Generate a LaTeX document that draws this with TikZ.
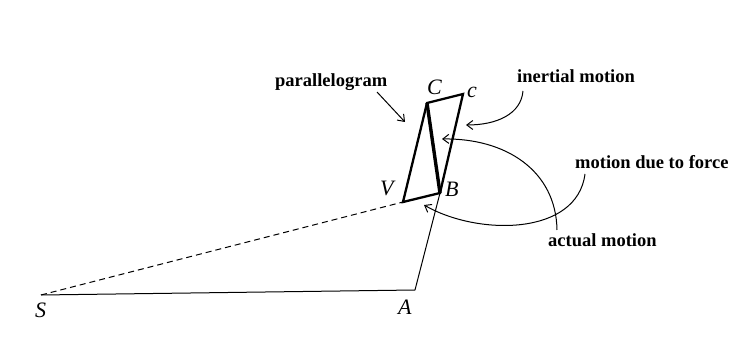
\documentclass[tikz,border=0pt]{standalone}
\usepackage{fontspec}
\setmainfont{Liberation Serif}
\usetikzlibrary{arrows.meta}
\begin{document}
\begin{tikzpicture}[x=1pt,y=-1pt,
  lbl/.style={font=\bfseries\fontsize{18.5}{20}\selectfont, anchor=base west, inner sep=0pt},
  pt/.style={font=\itshape\fontsize{22}{24}\selectfont, anchor=base west, inner sep=0pt},
  edge/.style={line width=2.3pt, line join=miter},
  thin/.style={line width=1pt},
  pointer/.style={line width=1pt, -{Straight Barb[length=6pt,width=9pt,line width=1pt]}}]
\useasboundingbox (0,0) rectangle (737,358);
% points
\coordinate (S) at (41,295);
\coordinate (A) at (415,290);
\coordinate (B) at (440,193);
\coordinate (V) at (403,202);
\coordinate (C) at (427,103);
\coordinate (cc) at (463,94);
% orbit lines
\draw[thin] (S) -- (A) -- (B);
\draw[thin, dash pattern=on 6pt off 4pt] (S) -- (V);
% parallelogram
\draw[edge] (V) -- (B) -- (cc) -- (C) -- cycle;
\draw[line width=3.4pt] (C) -- (B);
% letters
\node[pt] (lC) at (427,95) {C};
\node[pt] (lc) at (467,98) {c};
\node[pt] (lV) at (380,196) {V};
\node[pt] (lB) at (445,197) {B};
\node[pt] (lS) at (35,318) {S};
\node[pt] (lA) at (398,315) {A};
% labels
\node[lbl] (par) at (275,87) {parallelogram};
\node[lbl] (ine) at (517,83) {inertial motion};
\node[lbl] (mdf) at (575,169) {motion due to force};
\node[lbl] (act) at (548,247) {actual motion};
% pointers
\coordinate (p1s) at (377,92);
\coordinate (p1e) at (405,122);
\draw[pointer] (p1s) -- (p1e);
\coordinate (p2s) at (523,91);
\coordinate (p2e) at (466,125);
\draw[pointer] (p2s) .. controls (521,114) and (497,125) .. (p2e);
\coordinate (p3s) at (557,230);
\coordinate (p3e) at (442,139);
\draw[pointer] (p3s) .. controls (556,170) and (505,138) .. (p3e);
\coordinate (p4s) at (585,174);
\coordinate (p4e) at (424,205);
\draw[pointer] (p4s) .. controls (577,236) and (478,236) .. (p4e);
\end{tikzpicture}
\end{document}
